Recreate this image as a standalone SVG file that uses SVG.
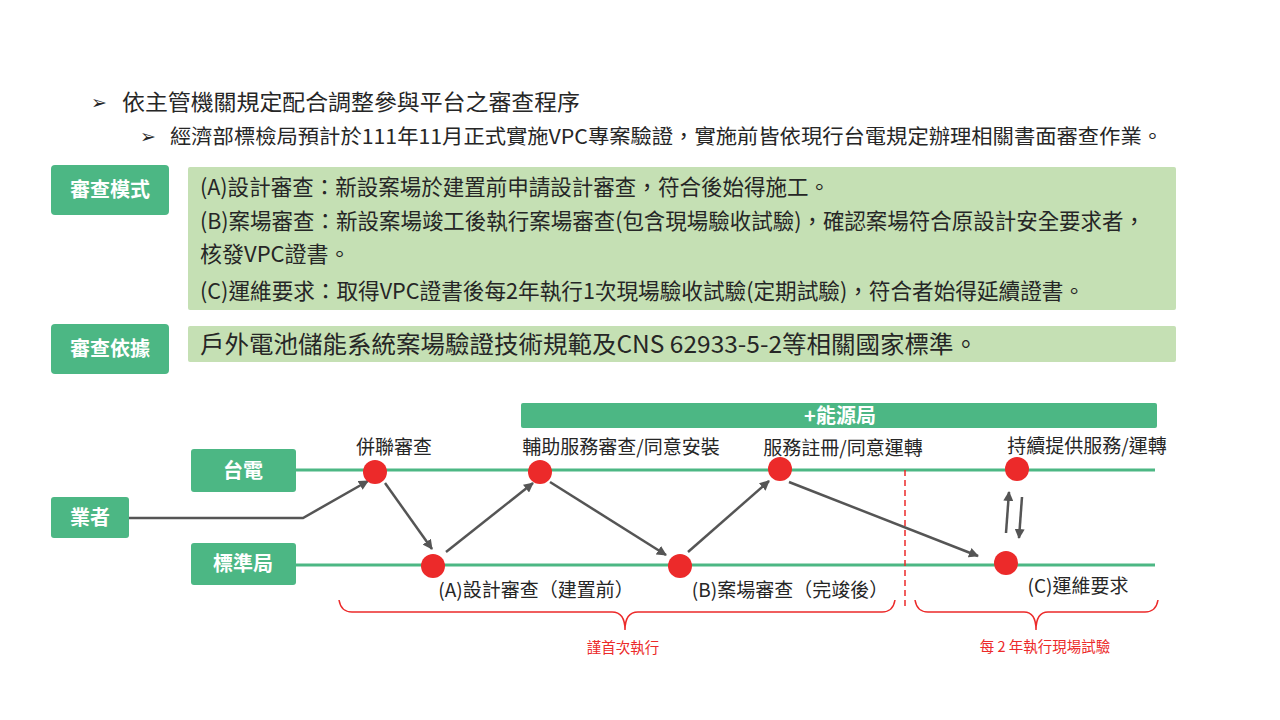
<svg xmlns="http://www.w3.org/2000/svg" width="1280" height="720" viewBox="0 0 1280 720">
<defs>
<style>
text{font-family:"Noto Sans CJK TC","Noto Sans CJK SC",sans-serif;fill:#262626}
.tag{fill:#4cb784}
.tagt{fill:#ffffff;font-weight:bold;font-size:20px;text-anchor:middle}
.panel{fill:#c5e0b4}
.pt{font-size:22px}
.lane{stroke:#4cb784;stroke-width:3;fill:none}
.dot{fill:#ec2a2a}
.arr{stroke:#555555;stroke-width:2.5;fill:none;marker-end:url(#ah)}
.lbl{font-size:19px;text-anchor:middle}
.brace{stroke:#ec2a2a;stroke-width:1.5;fill:none}
.rt{fill:#ec2a2a;font-size:14.5px;text-anchor:middle}
.bul{font-family:"DejaVu Sans",sans-serif;font-size:19px;fill:#262626}
</style>
<marker id="ah" viewBox="0 0 10 10" refX="9" refY="5" markerWidth="4" markerHeight="4" orient="auto" markerUnits="strokeWidth">
<path d="M0,0 L10,5 L0,10 z" fill="#555555"/>
</marker>
</defs>
<rect width="1280" height="720" fill="#ffffff"/>

<g id="bullets">
<text class="bul" x="91" y="109">➢</text>
<text x="122" y="110" font-size="22" textLength="458" lengthAdjust="spacingAndGlyphs">依主管機關規定配合調整參與平台之審查程序</text>
<text class="bul" x="140" y="143">➢</text>
<text x="170" y="144" font-size="20" textLength="993" lengthAdjust="spacingAndGlyphs">經濟部標檢局預計於111年11月正式實施VPC專案驗證，實施前皆依現行台電規定辦理相關書面審查作業。</text>
</g>

<g id="mode">
<rect class="tag" x="51" y="165" width="118" height="50" rx="4"/>
<text class="tagt" x="110" y="197">審查模式</text>
</g>
<g id="mode-panel">
<rect class="panel" x="188" y="167" width="988" height="143" rx="2"/>
<text class="pt" x="200" y="195" textLength="630" lengthAdjust="spacingAndGlyphs">(A)設計審查：新設案場於建置前申請設計審查，符合後始得施工。</text>
<text class="pt" x="200" y="229" textLength="945" lengthAdjust="spacingAndGlyphs">(B)案場審查：新設案場竣工後執行案場審查(包含現場驗收試驗)，確認案場符合原設計安全要求者，</text>
<text class="pt" x="200" y="262">核發VPC證書。</text>
<text class="pt" x="200" y="299" textLength="885" lengthAdjust="spacingAndGlyphs">(C)運維要求：取得VPC證書後每2年執行1次現場驗收試驗(定期試驗)，符合者始得延續證書。</text>
</g>

<g id="basis">
<rect class="tag" x="51" y="324" width="118" height="50" rx="4"/>
<text class="tagt" x="110" y="356">審查依據</text>
</g>
<g id="basis-panel">
<rect class="panel" x="188" y="326" width="988" height="36" rx="2"/>
<text x="200" y="353" font-size="24" textLength="778" lengthAdjust="spacingAndGlyphs">戶外電池儲能系統案場驗證技術規範及CNS 62933-5-2等相關國家標準。</text>
</g>

<g id="energy">
<rect class="tag" x="521" y="403" width="636" height="25" rx="2"/>
<text class="tagt" x="840" y="423">+能源局</text>
</g>
<g id="taipower">
<rect class="tag" x="191" y="449" width="105" height="43" rx="3"/>
<text class="tagt" x="243" y="478" font-size="21">台電</text>
</g>
<g id="operator">
<rect class="tag" x="51" y="497" width="78" height="41" rx="3"/>
<text class="tagt" x="90" y="525" font-size="21">業者</text>
</g>
<g id="bsmi">
<rect class="tag" x="191" y="543" width="105" height="42" rx="3"/>
<text class="tagt" x="243" y="571" font-size="21">標準局</text>
</g>

<g id="lanes">
<line class="lane" x1="296" y1="470" x2="1155" y2="470"/>
<line class="lane" x1="296" y1="565" x2="1155" y2="565"/>
</g>

<g id="connectors">
<polyline class="arr" points="129,518 303,518 368,481"/>
<line class="arr" x1="385" y1="483" x2="432" y2="549"/>
<line class="arr" x1="446" y1="552" x2="533" y2="483"/>
<line class="arr" x1="550" y1="482" x2="666" y2="555"/>
<line class="arr" x1="688" y1="552" x2="769" y2="481"/>
<line class="arr" x1="789" y1="482" x2="978" y2="556"/>
<line class="arr" x1="1006" y1="533" x2="1009" y2="492"/>
<line class="arr" x1="1022" y1="497" x2="1019" y2="538"/>
</g>

<g id="nodes">
<circle class="dot" cx="375" cy="472" r="12"/>
<circle class="dot" cx="540" cy="472" r="12"/>
<circle class="dot" cx="780" cy="469" r="12"/>
<circle class="dot" cx="1017" cy="469" r="12"/>
<circle class="dot" cx="433" cy="566" r="12"/>
<circle class="dot" cx="680" cy="566" r="12"/>
<circle class="dot" cx="1006" cy="563" r="12"/>
</g>

<g id="labels">
<text class="lbl" x="394" y="454">併聯審查</text>
<text class="lbl" x="621" y="454">輔助服務審查/同意安裝</text>
<text class="lbl" x="843" y="455">服務註冊/同意運轉</text>
<text class="lbl" x="1087" y="453">持續提供服務/運轉</text>
<text class="lbl" x="536" y="597">(A)設計審查（建置前）</text>
<text class="lbl" x="790" y="597">(B)案場審查（完竣後）</text>
<text class="lbl" x="1078" y="593">(C)運維要求</text>
</g>

<g id="phases">
<line x1="905" y1="470" x2="905" y2="608" stroke="#ec2a2a" stroke-width="1.5" stroke-dasharray="6,4"/>
<path class="brace" d="M339,600 Q341,612 352,612 L612,612 Q625,612 625,630 Q625,612 638,612 L882,612 Q893,612 895,600"/>
<path class="brace" d="M915,600 Q917,612 928,612 L1024,612 Q1036,612 1036,630 Q1036,612 1048,612 L1145,612 Q1156,612 1158,600"/>
<text class="rt" x="623" y="653">謹首次執行</text>
<text class="rt" x="1045" y="652">每 2 年執行現場試驗</text>
</g>
</svg>
